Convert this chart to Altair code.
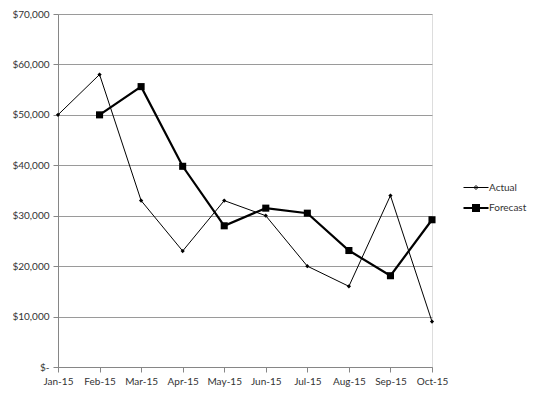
import altair as alt
import pandas as pd

months = ["Jan-15", "Feb-15", "Mar-15", "Apr-15", "May-15", "Jun-15",
          "Jul-15", "Aug-15", "Sep-15", "Oct-15"]
actual = [50000, 58000, 33000, 23000, 33000, 30000, 20000, 16000, 34000, 9000]
forecast = [None, 50000, 55600, 39800, 28000, 31500, 30500, 23100, 18100, 29200]
series_names = ["Actual", "Forecast"]

rows = []
for m, a, f in zip(months, actual, forecast):
    rows.append({"month": m, "series": "Actual", "value": a})
    if f is not None:
        rows.append({"month": m, "series": "Forecast", "value": f})
df = pd.DataFrame(rows)

FONT = "Lato"

x = alt.X("month:O", sort=months, title=None,
          scale=alt.Scale(type="point", padding=0),
          axis=alt.Axis(labelAngle=0, labelFontSize=10, labelColor="#333",
                        domainColor="#868686", tickColor="#868686", tickSize=5,
                        labelPadding=4, grid=False))
y = alt.Y("value:Q", title=None,
          scale=alt.Scale(domain=[0, 70000], nice=False),
          axis=alt.Axis(values=list(range(0, 70001, 10000)),
                        labelExpr="datum.value == 0 ? '$-' : '$' + format(datum.value, ',')",
                        labelFontSize=10, labelColor="#333", gridColor="#9a9a9a",
                        domainColor="#868686", tickColor="#868686", tickSize=5,
                        labelPadding=4))

base = alt.Chart(df)

act_line = base.transform_filter("datum.series == 'Actual'").mark_line(
    color="black", strokeWidth=1).encode(x=x, y=y)
fc_line = base.transform_filter("datum.series == 'Forecast'").mark_line(
    color="black", strokeWidth=2.2).encode(x=x, y=y)
act_pts = base.transform_filter("datum.series == 'Actual'").mark_point(
    shape="diamond", filled=True, color="black", opacity=1, size=18).encode(x=x, y=y)
fc_pts = base.transform_filter("datum.series == 'Forecast'").mark_point(
    shape="square", filled=True, color="black", opacity=1, size=50).encode(x=x, y=y)

# legend glyphs: a short line with the series marker drawn through it (stroked paths)
legend_paths = [
    "M-1.25,0H1.25M0,-0.2L0.2,0L0,0.2L-0.2,0Z M-0.1,0H0.1",
    "M-1.25,0H1.25M-0.3,-0.3H0.3V0.3H-0.3Z M-0.3,-0.12H0.3M-0.3,0.12H0.3",
]

legend_layer = base.mark_point(opacity=0, filled=False).encode(
    x=x, y=y,
    color=alt.Color("series:N", sort=series_names,
                    scale=alt.Scale(domain=series_names, range=["black", "black"]),
                    legend=alt.Legend(title=None)),
    shape=alt.Shape("series:N", sort=series_names,
                    scale=alt.Scale(domain=series_names, range=legend_paths),
                    legend=alt.Legend(title=None)),
    strokeWidth=alt.StrokeWidth("series:N", sort=series_names,
                                scale=alt.Scale(domain=series_names, range=[1, 2]),
                                legend=alt.Legend(title=None)),
)

chart = alt.layer(act_line, fc_line, act_pts, fc_pts, legend_layer).properties(
    width=374, height=353,
    autosize=alt.AutoSizeParams(type="none"),
    padding={"left": 50, "top": 6, "right": 95, "bottom": 21},
).configure_view(stroke="#7f7f7f", strokeWidth=1.5).configure(
    font=FONT
).configure_axis(labelFont=FONT).configure_legend(
    orient="none", legendX=407, legendY=163,
    labelFont=FONT, labelFontSize=10, labelColor="#333",
    symbolSize=400, rowPadding=4, labelOffset=2,
    symbolOpacity=1,
)

chart.save("out.html", embed_options={"renderer": "svg", "actions": False})
